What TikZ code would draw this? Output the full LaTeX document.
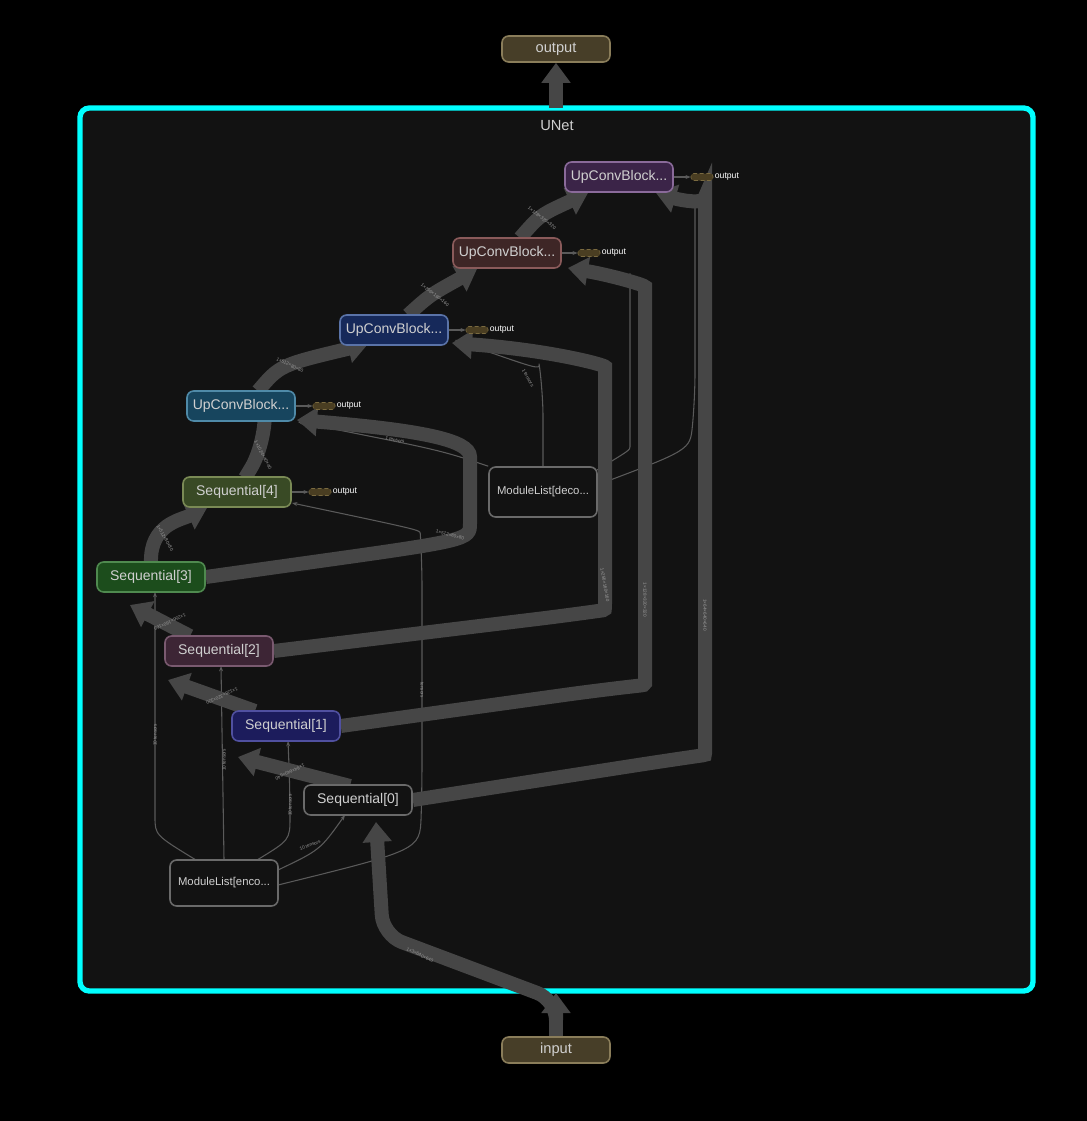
\documentclass[tikz,border=0pt]{standalone}
\usepackage{fontspec}
\setmainfont{Liberation Sans}
\usetikzlibrary{arrows.meta}
\pgfdeclarelayer{bgl}
\pgfsetlayers{bgl,main}
\definecolor{bg}{HTML}{121212}
\definecolor{cyanb}{HTML}{00FFFF}
\definecolor{edge}{HTML}{464646}
\definecolor{thinc}{HTML}{5a5a5a}
\definecolor{txt}{HTML}{D0D0D0}
\definecolor{u4f}{HTML}{3B2448}\definecolor{u4d}{HTML}{8A6A9A}
\definecolor{u3f}{HTML}{3E2626}\definecolor{u3d}{HTML}{8A5A5A}
\definecolor{u2f}{HTML}{16295A}\definecolor{u2d}{HTML}{5A73A8}
\definecolor{u1f}{HTML}{17455E}\definecolor{u1d}{HTML}{4F8AA8}
\definecolor{s4f}{HTML}{394A25}\definecolor{s4d}{HTML}{7A8A55}
\definecolor{s3f}{HTML}{1C4D1C}\definecolor{s3d}{HTML}{4F8A4F}
\definecolor{s2f}{HTML}{3D2535}\definecolor{s2d}{HTML}{7A5A70}
\definecolor{s1f}{HTML}{1C1C5C}\definecolor{s1d}{HTML}{5050A0}
\definecolor{s0d}{HTML}{6A6A6A}
\definecolor{iof}{HTML}{473E28}\definecolor{iod}{HTML}{8A7D5A}
\definecolor{tagf}{HTML}{4A3E22}\definecolor{tagd}{HTML}{7A6A40}
\begin{document}
\begin{tikzpicture}[x=0.75pt,y=-0.75pt,
  blk/.style 2 args={draw=#2,fill=#1,line width=1.2pt,rounded corners=5pt,minimum width=108*0.75pt,minimum height=30*0.75pt,text=txt,font=\fontsize{10.5}{12}\selectfont,inner sep=0pt},
  io/.style={fill=iof,draw=iod,line width=1.2pt,rounded corners=5pt,minimum width=108*0.75pt,minimum height=26*0.75pt,text=txt,font=\fontsize{11}{12}\selectfont,inner sep=0pt},
  fat/.style={draw=edge,line width=10.5pt,-{Triangle[width=21pt,length=15pt]},rounded corners=25pt},
  thn/.style={draw=thinc,line width=0.8pt,-{Stealth[length=4pt]},rounded corners=20pt},
  lbl/.style={font=\fontsize{3.5}{4}\selectfont,text=white!60!black,inner sep=1pt},
  otag/.style={draw=tagd,densely dashed,fill=tagf,rounded corners=2pt,minimum width=22*0.75pt,minimum height=7*0.75pt,inner sep=0pt},
  otxt/.style={font=\fontsize{6.5}{7}\selectfont,text=white,anchor=west,inner sep=1pt}]
\begin{pgfonlayer}{bgl}
\fill[black] (0,0) rectangle (1087,1121);
\draw[draw=cyanb,fill=bg,line width=4pt,rounded corners=7pt] (80,108) rectangle (1033,991);
\end{pgfonlayer}
\useasboundingbox (0,0) rectangle (1087,1121);
\node[text=txt,font=\fontsize{11}{12}\selectfont] (title) at (557,126) {UNet};
\node[io] (out) at (556,49) {output};
\node[io] (in) at (556,1050) {input};
\coordinate (bin) at (556,993);
\node[blk={u4f}{u4d}] (u4) at (619,177) {UpConvBlock...};
\node[blk={u3f}{u3d}] (u3) at (507,253) {UpConvBlock...};
\node[blk={u2f}{u2d}] (u2) at (394,330) {UpConvBlock...};
\node[blk={u1f}{u1d}] (u1) at (241,406) {UpConvBlock...};
\node[blk={s4f}{s4d}] (s4) at (237,492) {Sequential[4]};
\node[blk={s3f}{s3d}] (s3) at (151,577) {Sequential[3]};
\node[blk={s2f}{s2d}] (s2) at (219,651) {Sequential[2]};
\node[blk={s1f}{s1d}] (s1) at (286,726) {Sequential[1]};
\node[blk={bg}{s0d}] (s0) at (358,800) {Sequential[0]};
\node[blk={bg}{s0d},minimum height=46*0.75pt,font=\fontsize{8.5}{10}\selectfont] (enc) at (224,883) {ModuleList[enco...};
\node[blk={bg}{s0d},minimum height=50*0.75pt,font=\fontsize{8.5}{10}\selectfont] (dec) at (543,492) {ModuleList[deco...};
\foreach \n/\x/\y in {u4/702/177,u3/589/253,u2/477/330,u1/324/406,s4/320/492}{
  \node[otag] (t\n) at (\x,\y) {};
  \node[otxt] at (t\n.east) {output};
  \draw[draw=thinc,line width=0.8pt,-{Stealth[length=4pt]}] (\n.east) -- (t\n.west);
}
\begin{pgfonlayer}{bgl}
% thin edges from encoder
\draw[thn] (196,860) .. controls (155,835) .. (155,790) -- (155,592);
\draw[thn] (enc.north) -- (221,666);
\draw[thn] (257,860) .. controls (290,840) .. (290,790) -- (288,741);
\draw[thn] (278,870) .. controls (320,850) .. (345,815);
\draw[thn] (278,885) .. controls (420,850) .. (422,790) -- (422,560) .. controls (420,530) .. (292,503);
\node[lbl,rotate=90] at (155,735) {10 tensors};
\node[lbl,rotate=90] at (224,760) {10 tensors};
\node[lbl,rotate=90] at (290,805) {10 tensors};
\node[lbl,rotate=20] at (310,845) {10 tensors};
\node[lbl,rotate=-90] at (422,690) {tensors};
% thin edges from decoder
\draw[thn] (dec.north) -- (543,390) .. controls (540,370) .. (455,340);
\draw[thn] (dec.north west) .. controls (440,450) .. (298,422);
\draw[thn] (597,470) .. controls (630,450) .. (630,420) -- (630,300) .. controls (630,280) .. (570,268);
\draw[thn] (597,485) .. controls (690,450) .. (695,400) -- (695,230) .. controls (695,210) .. (660,195);
\node[lbl,rotate=-60] at (528,378) {1 tensors};
\node[lbl,rotate=-10] at (395,440) {1 tensors};
% thick edges
\draw[fat] (in.north) -- (bin);
\draw[fat,rounded corners=15pt] (556,1010) -- (556,1000) -- (383,935) -- (376,822);
\node[lbl,rotate=-25] at (420,955) {1×3×640×640};
\draw[fat] (350,786) -- (238,757);
\node[lbl,rotate=-155] at (290,772) {1×64×640×640};
\draw[fat] (255,711) -- (168,680);
\node[lbl,rotate=-155] at (222,696) {1×128×320×320};
\draw[fat] (190,636) -- (130,605);
\node[lbl,rotate=-155] at (170,622) {1×256×160×160};
\draw[fat] (151,562) .. controls (150,525) and (180,520) .. (207,508);
\node[lbl,rotate=-60] at (165,538) {1×512×80×80};
\draw[fat] (245,478) -- (268,440) -- (266,421);
\node[lbl,rotate=-62] at (263,455) {1×1024×40×40};
\draw[fat] (258,391) .. controls (280,365) .. (368,344);
\node[lbl,rotate=-25] at (290,365) {1×512×80×80};
\draw[fat] (408,315) .. controls (430,295) .. (477,269);
\node[lbl,rotate=-38] at (435,295) {1×256×160×160};
\draw[fat] (520,238) .. controls (540,215) .. (588,193);
\node[lbl,rotate=-38] at (542,218) {1×128×320×320};
\draw[fat] (556,108) -- (out.south);
% skip connections
\draw[fat] (s3.east) -- (270,568) .. controls (470,540) .. (470,490) .. controls (470,440) and (420,430) .. (297,420);
\node[lbl,rotate=-15] at (450,535) {1×512×80×80};
\draw[fat] (s2.east) -- (570,615) .. controls (605,610) .. (605,570) -- (605,400) .. controls (605,365) and (550,350) .. (452,343);
\node[lbl,rotate=-80] at (605,585) {1×256×160×160};
\draw[fat] (s1.east) -- (600,690) .. controls (645,685) .. (645,650) -- (645,320) .. controls (645,285) and (610,275) .. (568,268);
\node[lbl,rotate=-90] at (645,600) {1×128×320×320};
\draw[fat] (s0.east) -- (670,760) .. controls (705,755) .. (705,720) -- (705,230) .. controls (705,205) and (680,200) .. (656,193);
\node[lbl,rotate=-90] at (705,615) {1×64×640×640};
\end{pgfonlayer}
\end{tikzpicture}
\end{document}
